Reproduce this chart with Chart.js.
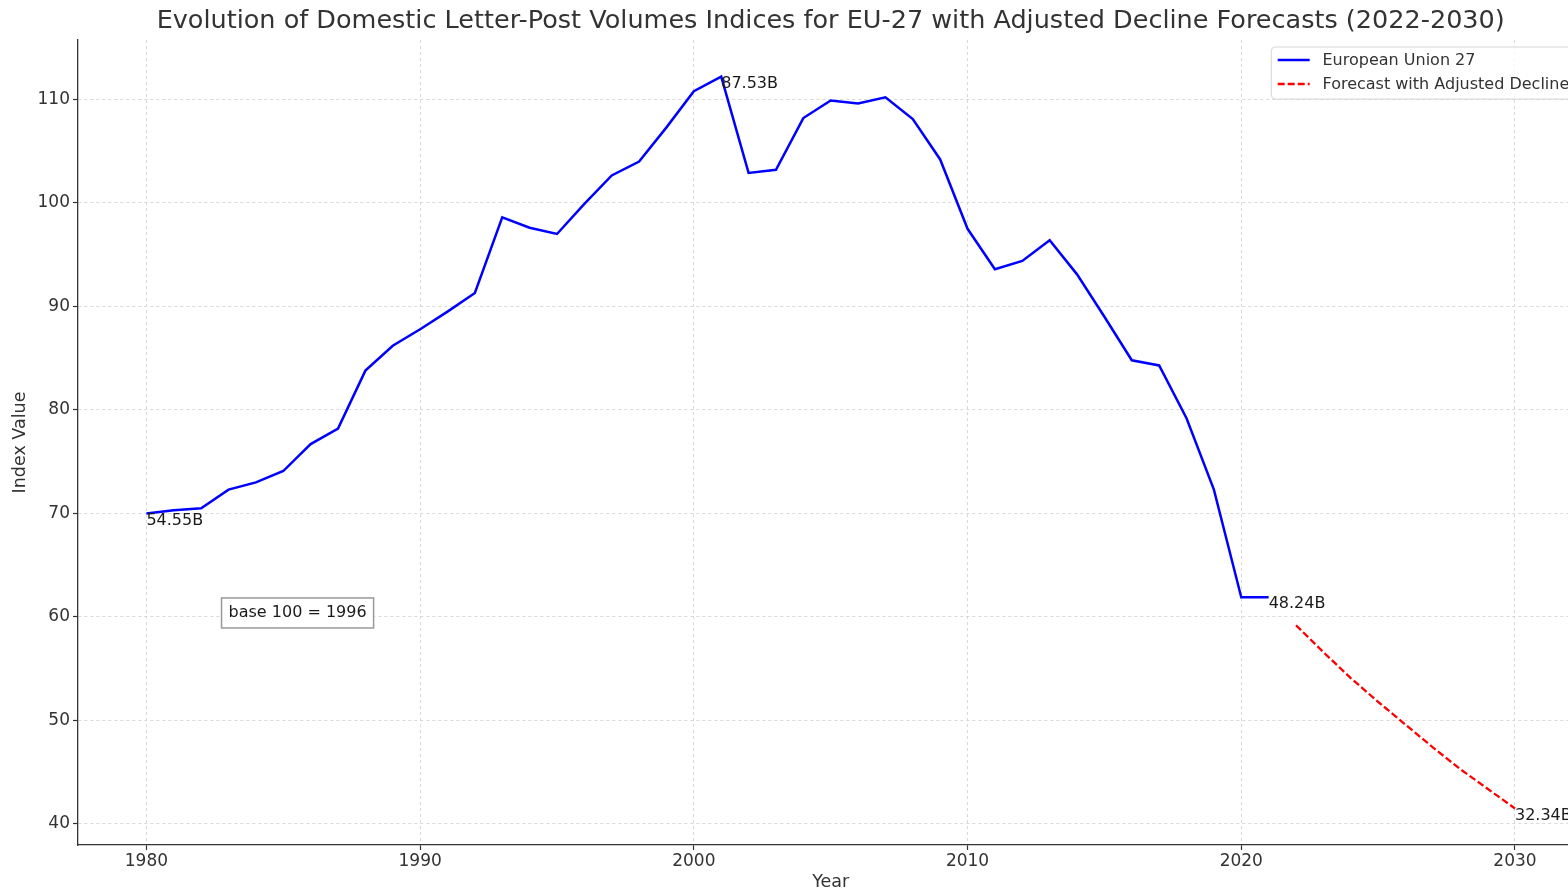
<!DOCTYPE html>
<html>
<head>
<meta charset="utf-8">
<script src="https://cdn.jsdelivr.net/npm/chart.js@4.4.1/dist/chart.umd.min.js"></script>
<style>
  html, body { margin: 0; padding: 0; background: #fff; overflow: hidden; width: 1568px; height: 890px; }
  #wrap { position: absolute; left: 0; top: 0; width: 1600px; height: 890px; }
  canvas { display: block; }
</style>
</head>
<body>
<div id="wrap"><canvas id="c" width="1600" height="890"></canvas></div>
<script>
// ---- Data ----
const chartTitle = "Evolution of Domestic Letter-Post Volumes Indices for EU-27 with Adjusted Decline Forecasts (2022-2030)";
const years = [1980,1981,1982,1983,1984,1985,1986,1987,1988,1989,1990,1991,1992,1993,1994,1995,1996,1997,1998,1999,2000,2001,2002,2003,2004,2005,2006,2007,2008,2009,2010,2011,2012,2013,2014,2015,2016,2017,2018,2019,2020,2021];
const euValues = [70.0,70.3,70.5,72.3,73.0,74.1,76.7,78.2,83.8,86.2,87.8,89.5,91.3,98.6,97.6,97.0,99.9,102.65,104.0,107.3,110.8,112.2,102.9,103.2,108.2,109.9,109.6,110.2,108.1,104.2,97.5,93.6,94.4,96.4,93.1,89.0,84.8,84.3,79.2,72.3,61.9,61.9];
const forecastYears = [2022,2023,2024,2025,2026,2027,2028,2029,2030];
const forecastValues = [59.2,56.6,54.1,51.8,49.6,47.4,45.3,43.4,41.5];
const seriesNames = ["European Union 27", "Forecast with Adjusted Decline"];
const annotationYears = [1980, 2001, 2021, 2030];
const annotationTexts = ["54.55B", "87.53B", "48.24B", "32.34B"];
const baseNote = { x: 1983, y: 60, text: "base 100 = 1996" };
const xTicks = [1980, 1990, 2000, 2010, 2020, 2030];
const yTicks = [40, 50, 60, 70, 80, 90, 100, 110];

const FONT = "'DejaVu Sans', 'Liberation Sans', sans-serif";
const TXT = '#333333';

function valueAt(yr) {
  let i = years.indexOf(yr);
  if (i >= 0) return euValues[i];
  i = forecastYears.indexOf(yr);
  return forecastValues[i];
}

const euData = years.map((y, i) => ({ x: y, y: euValues[i] }));
const fcData = forecastYears.map((y, i) => ({ x: y, y: forecastValues[i] }));

const overlayPlugin = {
  id: 'overlay',
  afterDatasetsDraw(chart) {
    const ctx = chart.ctx;
    const xs = chart.scales.x, ys = chart.scales.y;
    ctx.save();
    // point annotations
    ctx.font = "16px " + FONT;
    ctx.fillStyle = '#1a1a1a';
    ctx.textAlign = 'left';
    ctx.textBaseline = 'top';
    annotationYears.forEach((yr, i) => {
      const px = xs.getPixelForValue(yr);
      const py = ys.getPixelForValue(valueAt(yr));
      ctx.fillText(annotationTexts[i], px, py - 1);
    });
    // base note box
    ctx.font = "16px " + FONT;
    ctx.textBaseline = 'alphabetic';
    const bx = xs.getPixelForValue(baseNote.x);
    const by = ys.getPixelForValue(baseNote.y);
    const tw = ctx.measureText(baseNote.text).width;
    ctx.fillStyle = '#ffffff';
    ctx.fillRect(bx - 7, by - 19, tw + 14, 30);
    ctx.strokeStyle = '#999999';
    ctx.lineWidth = 1.5;
    ctx.strokeRect(bx - 7, by - 19, tw + 14, 30);
    ctx.fillStyle = '#1a1a1a';
    ctx.fillText(baseNote.text, bx, by);
    ctx.restore();
  },
  afterDraw(chart) {
    const ctx = chart.ctx;
    const ca = chart.chartArea;
    ctx.save();
    // title
    ctx.font = "25.5px " + FONT;
    ctx.fillStyle = TXT;
    ctx.textAlign = 'center';
    ctx.textBaseline = 'middle';
    ctx.fillText(chartTitle, (ca.left + ca.right) / 2, 21);
    // legend
    const fs = 16;
    ctx.font = fs + "px " + FONT;
    let maxW = 0;
    chart.data.datasets.forEach(d => { maxW = Math.max(maxW, ctx.measureText(d.label).width); });
    const w = 0.4 * fs + 2 * fs + 0.8 * fs + maxW + 0.4 * fs;
    const right = ca.right - 7.75;
    const left = right - w;
    const top = ca.top + 7;
    const h = 52;
    const r = 4;
    ctx.beginPath();
    ctx.moveTo(left + r, top);
    ctx.lineTo(right - r, top);
    ctx.quadraticCurveTo(right, top, right, top + r);
    ctx.lineTo(right, top + h - r);
    ctx.quadraticCurveTo(right, top + h, right - r, top + h);
    ctx.lineTo(left + r, top + h);
    ctx.quadraticCurveTo(left, top + h, left, top + h - r);
    ctx.lineTo(left, top + r);
    ctx.quadraticCurveTo(left, top, left + r, top);
    ctx.closePath();
    ctx.fillStyle = 'rgba(255,255,255,0.8)';
    ctx.fill();
    ctx.strokeStyle = '#d6d6d6';
    ctx.lineWidth = 1;
    ctx.stroke();
    chart.data.datasets.forEach((d, i) => {
      const cy = top + 13 + i * 24;
      const lx = left + 0.4 * fs;
      ctx.beginPath();
      ctx.setLineDash(d.borderDash || []);
      ctx.strokeStyle = d.borderColor;
      ctx.lineWidth = d.borderWidth;
      ctx.moveTo(lx, cy);
      ctx.lineTo(lx + 2 * fs, cy);
      ctx.stroke();
      ctx.setLineDash([]);
      ctx.fillStyle = TXT;
      ctx.textAlign = 'left';
      ctx.textBaseline = 'middle';
      ctx.fillText(d.label, lx + 2.8 * fs, cy + 1);
    });
    ctx.restore();
  }
};

const chart = new Chart(document.getElementById('c'), {
  type: 'line',
  data: {
    datasets: [
      { label: seriesNames[0], data: euData, borderColor: '#0000ff', backgroundColor: '#0000ff', borderWidth: 2.5, pointRadius: 0, tension: 0, fill: false },
      { label: seriesNames[1], data: fcData, borderColor: '#ff0000', backgroundColor: '#ff0000', borderWidth: 2.3, borderDash: [7, 3], pointRadius: 0, tension: 0, fill: false }
    ]
  },
  options: {
    responsive: false,
    animation: false,
    devicePixelRatio: 1,
    layout: { padding: { top: 40, right: 16.6, bottom: 0, left: 0 } },
    plugins: { legend: { display: false }, title: { display: false }, tooltip: { enabled: false } },
    scales: {
      x: {
        type: 'linear',
        min: 1977.5, max: 2032.5,
        afterFit: s => { s.height = 45; },
        afterBuildTicks: s => { s.ticks = xTicks.map(v => ({ value: v })); },
        ticks: { includeBounds: false, stepSize: 10, color: TXT, font: { family: FONT, size: 17 }, padding: 1, maxRotation: 0, callback: v => String(v) },
        grid: { color: '#d0d0d0', lineWidth: 0.8, tickColor: '#333', tickLength: 5, tickWidth: 1.2, tickBorderDash: [] },
        border: { display: true, color: '#333', width: 1.3, dash: [3, 3] },
        title: { display: true, text: 'Year', color: TXT, font: { family: FONT, size: 17.5 }, padding: { top: 0, bottom: -3 } }
      },
      y: {
        type: 'linear',
        min: 37.97, max: 115.74,
        afterFit: s => { s.width = 78; },
        afterBuildTicks: s => { s.ticks = yTicks.map(v => ({ value: v })); },
        ticks: { includeBounds: false, stepSize: 10, color: TXT, font: { family: FONT, size: 17 }, padding: 3, callback: v => String(v) },
        grid: { color: '#d0d0d0', lineWidth: 0.8, tickColor: '#333', tickLength: 5, tickWidth: 1.2, tickBorderDash: [] },
        border: { display: true, color: '#333', width: 1.3, dash: [3, 3] },
        title: { display: true, text: 'Index Value', color: TXT, font: { family: FONT, size: 17.5 }, padding: { top: 10, bottom: 0 } }
      }
    }
  },
  plugins: [overlayPlugin]
});
</script>
</body>
</html>
